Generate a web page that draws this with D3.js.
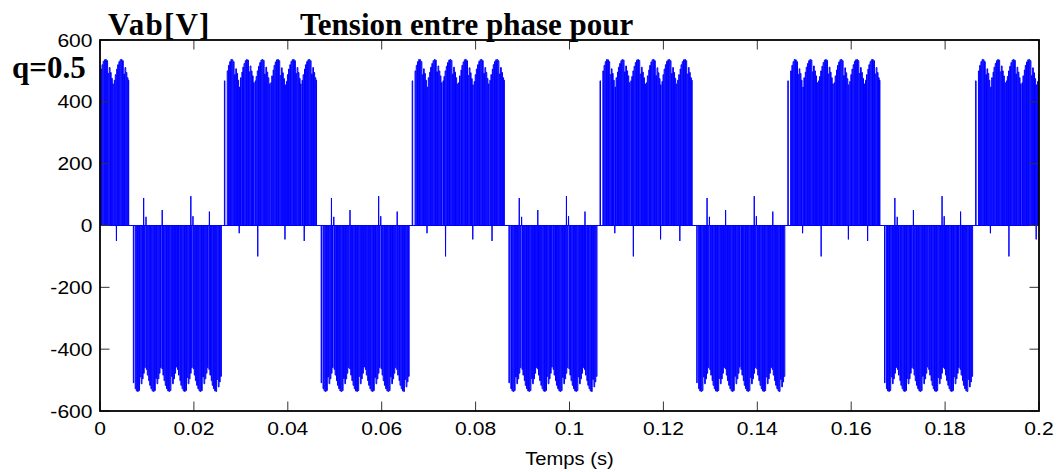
<!DOCTYPE html>
<html>
<head>
<meta charset="utf-8">
<script src="https://cdn.jsdelivr.net/npm/d3@7"></script>
<style>
  body { margin: 0; background: #fff; }
  svg { display: block; }
</style>
</head>
<body>
<svg id="chart" width="1058" height="472"></svg>
<script>
// Axis ticks
const xTicks = [0, 0.02, 0.04, 0.06, 0.08, 0.1, 0.12, 0.14, 0.16, 0.18, 0.2];
const xTickLabels = ["0", "0.02", "0.04", "0.06", "0.08", "0.1", "0.12", "0.14", "0.16", "0.18", "0.2"];
const yTicks = [-600, -400, -200, 0, 200, 400, 600];
const yTickLabels = ["-600", "-400", "-200", "0", "200", "400", "600"];

// Onset time (s) of each block of positive / negative pulses
const positiveBlockStarts = [-0.0135, 0.0265, 0.0665, 0.1065, 0.1465, 0.1865];
const negativeBlockStarts = [0.0071, 0.0471, 0.0871, 0.1271, 0.1671];

// Pulses of a positive block: [on (ms from block onset), off (ms), level (V)]
const positivePulses = [
  [0.00, 0.10, 468],
  [0.60, 0.76, 500], [0.86, 1.02, 518], [1.12, 1.28, 530], [1.38, 1.54, 537], [1.64, 1.80, 536],
  [1.90, 2.06, 530], [2.16, 2.32, 488], [2.42, 2.56, 507], [2.66, 2.80, 492], [2.90, 3.02, 470],
  [3.20, 3.30, 448], [3.42, 3.56, 478], [3.72, 3.84, 496], [3.92, 4.08, 512], [4.18, 4.34, 524],
  [4.44, 4.60, 533], [4.70, 4.86, 537], [4.96, 5.12, 535], [5.22, 5.38, 497], [5.48, 5.64, 516],
  [5.74, 5.88, 500], [5.98, 6.12, 484], [6.22, 6.34, 462],
  [6.56, 6.66, 468], [6.76, 6.90, 482], [7.00, 7.16, 500], [7.26, 7.42, 515], [7.52, 7.68, 527],
  [7.78, 7.94, 535], [8.04, 8.20, 537], [8.30, 8.46, 534], [8.56, 8.72, 490], [8.82, 8.98, 512],
  [9.08, 9.22, 496], [9.32, 9.46, 478], [9.56, 9.68, 458],
  [9.88, 9.98, 462], [10.08, 10.22, 484], [10.38, 10.50, 503], [10.58, 10.74, 518], [10.84, 11.00, 529],
  [11.10, 11.26, 536], [11.36, 11.52, 537], [11.62, 11.78, 533], [11.88, 12.04, 485], [12.14, 12.30, 510],
  [12.40, 12.54, 494], [12.64, 12.78, 475], [12.88, 13.00, 455],
  [13.20, 13.30, 466], [13.42, 13.56, 488], [13.66, 13.82, 506], [13.92, 14.08, 520], [14.18, 14.34, 531],
  [14.44, 14.60, 536], [14.70, 14.86, 537], [14.96, 15.12, 533], [15.22, 15.38, 492], [15.48, 15.64, 511],
  [15.74, 15.88, 495], [15.98, 16.12, 476], [16.22, 16.34, 458],
  [16.54, 16.64, 470], [16.76, 16.90, 488], [17.06, 17.16, 506], [17.26, 17.42, 520], [17.52, 17.68, 530],
  [17.78, 17.94, 536], [18.04, 18.20, 537], [18.30, 18.46, 533], [18.56, 18.72, 490], [18.82, 18.98, 511],
  [19.08, 19.22, 495], [19.32, 19.46, 478], [19.54, 19.62, 470]
];

// Pulses of a negative block: [on (ms from block onset), off (ms), magnitude (V)]
const negativePulses = [
  [0.00, 0.10, 509],
  [0.40, 0.54, 528], [0.64, 0.80, 535], [0.90, 1.06, 537], [1.16, 1.32, 534], [1.42, 1.58, 490],
  [1.68, 1.84, 512], [1.94, 2.08, 496], [2.18, 2.32, 478], [2.42, 2.54, 460],
  [2.78, 2.88, 466], [2.98, 3.12, 484], [3.28, 3.38, 502], [3.48, 3.64, 517], [3.74, 3.90, 528],
  [4.00, 4.16, 535], [4.26, 4.42, 537], [4.52, 4.68, 534], [4.78, 4.94, 495], [5.04, 5.20, 512],
  [5.30, 5.44, 496], [5.54, 5.68, 478], [5.78, 5.90, 460],
  [6.10, 6.20, 464], [6.30, 6.44, 484], [6.54, 6.70, 502], [6.80, 6.96, 517], [7.06, 7.22, 528],
  [7.32, 7.48, 535], [7.58, 7.74, 537], [7.84, 8.00, 534], [8.10, 8.26, 488], [8.36, 8.52, 512],
  [8.62, 8.76, 496], [8.86, 9.00, 478], [9.10, 9.22, 458],
  [9.42, 9.52, 466], [9.62, 9.76, 484], [9.92, 10.02, 502], [10.12, 10.28, 517], [10.38, 10.54, 528],
  [10.64, 10.80, 535], [10.90, 11.06, 537], [11.16, 11.32, 534], [11.42, 11.58, 492], [11.68, 11.84, 512],
  [11.94, 12.08, 496], [12.18, 12.32, 478], [12.42, 12.54, 460],
  [12.78, 12.88, 464], [12.98, 13.12, 484], [13.22, 13.38, 502], [13.48, 13.64, 517], [13.74, 13.90, 528],
  [14.00, 14.16, 535], [14.26, 14.42, 537], [14.52, 14.68, 534], [14.78, 14.94, 490], [15.04, 15.20, 512],
  [15.30, 15.44, 496], [15.54, 15.68, 478], [15.78, 15.90, 460],
  [16.10, 16.20, 466], [16.30, 16.44, 484], [16.60, 16.70, 502], [16.80, 16.96, 517], [17.06, 17.22, 528],
  [17.32, 17.48, 535], [17.58, 17.74, 537], [17.84, 18.00, 498], [18.10, 18.26, 522], [18.36, 18.50, 506],
  [18.60, 18.76, 488]
];

// Short opposite-polarity spikes inside each block: [time (ms from block onset), peak (V)]
const positiveBlockSpikes = [[3.15, -25], [7.10, -100], [12.90, -45], [17.00, -50]];
const negativeBlockSpikes = [[2.20, 89], [2.70, 28], [6.15, 50], [12.25, 95], [12.70, 30], [16.20, 45]];

const svg = d3.select("#chart");
const margin = { left: 100, right: 1039, top: 40, bottom: 411 };

const x = d3.scaleLinear().domain([0, 0.2]).range([margin.left, margin.right]);
const y = d3.scaleLinear().domain([-600, 600]).range([margin.bottom, margin.top]);

svg.append("defs").append("clipPath").attr("id", "plot-clip")
  .append("rect")
  .attr("x", margin.left).attr("y", margin.top)
  .attr("width", margin.right - margin.left).attr("height", margin.bottom - margin.top);

const line = d3.line().x(d => x(d[0])).y(d => y(d[1]));
const plot = svg.append("g").attr("clip-path", "url(#plot-clip)");

const blueStroke = sel => sel.attr("fill", "none").attr("stroke", "#0000ff")
  .attr("stroke-width", 1).attr("stroke-linejoin", "miter");

// zero line between pulses
plot.append("path").attr("d", line([[0, 0], [0.2, 0]])).call(blueStroke);

function blockPoints(start, pulses, sign) {
  const pts = [];
  pulses.forEach(([on, off, v]) => {
    const t0 = start + on / 1000, t1 = start + off / 1000;
    pts.push([t0, 0], [t0, sign * v], [t1, sign * v], [t1, 0]);
  });
  return pts;
}

function spikePoints(start, spikes) {
  return spikes.map(([t, v]) => {
    const tc = start + t / 1000;
    return [[tc - 0.00003, 0], [tc, v], [tc + 0.00003, 0]];
  });
}

positiveBlockStarts.forEach(s => {
  plot.append("path").attr("d", line(blockPoints(s, positivePulses, 1))).call(blueStroke);
  spikePoints(s, positiveBlockSpikes).forEach(p =>
    plot.append("path").attr("d", line(p)).call(blueStroke));
});
negativeBlockStarts.forEach(s => {
  plot.append("path").attr("d", line(blockPoints(s, negativePulses, -1))).call(blueStroke);
  spikePoints(s, negativeBlockSpikes).forEach(p =>
    plot.append("path").attr("d", line(p)).call(blueStroke));
});

// Ticks (inward, on all four sides)
const tickLen = 9.5;
const ticks = svg.append("g").attr("stroke", "#333").attr("stroke-width", 1);
xTicks.forEach(t => {
  const px = x(t);
  ticks.append("line").attr("x1", px).attr("x2", px).attr("y1", margin.bottom).attr("y2", margin.bottom - tickLen);
  ticks.append("line").attr("x1", px).attr("x2", px).attr("y1", margin.top).attr("y2", margin.top + tickLen);
});
yTicks.forEach(v => {
  const py = y(v);
  ticks.append("line").attr("x1", margin.left).attr("x2", margin.left + tickLen).attr("y1", py).attr("y2", py);
  ticks.append("line").attr("x1", margin.right).attr("x2", margin.right - tickLen).attr("y1", py).attr("y2", py);
});

// Axes box
svg.append("rect")
  .attr("x", margin.left).attr("y", margin.top)
  .attr("width", margin.right - margin.left).attr("height", margin.bottom - margin.top)
  .attr("fill", "none").attr("stroke", "#000").attr("stroke-width", 1.8);

// Tick labels
const labelFont = "'Liberation Sans', Arial, sans-serif";
xTicks.forEach((t, i) => {
  svg.append("text")
    .attr("transform", `translate(${x(t)},435) scale(1.17,1)`)
    .attr("text-anchor", "middle")
    .attr("font-family", labelFont).attr("font-size", 18).attr("fill", "#000")
    .text(xTickLabels[i]);
});
yTicks.forEach((v, i) => {
  svg.append("text")
    .attr("transform", `translate(92.5,${y(v) + 6.5}) scale(1.17,1)`)
    .attr("text-anchor", "end")
    .attr("font-family", labelFont).attr("font-size", 18).attr("fill", "#000")
    .text(yTickLabels[i]);
});

svg.append("text")
  .attr("transform", `translate(${(margin.left + margin.right) / 2},465) scale(1.12,1)`)
  .attr("text-anchor", "middle")
  .attr("font-family", labelFont).attr("font-size", 18).attr("fill", "#000")
  .text("Temps (s)");

// Titles
const titleFont = "'Liberation Serif', 'Times New Roman', serif";
svg.append("text").attr("x", 108).attr("y", 35)
  .attr("font-family", titleFont).attr("font-weight", "bold").attr("font-size", 31)
  .attr("letter-spacing", 1.2)
  .text("Vab[V]");
svg.append("text").attr("x", 300).attr("y", 35)
  .attr("font-family", titleFont).attr("font-weight", "bold").attr("font-size", 31)
  .text("Tension entre phase pour");
svg.append("text").attr("x", 12).attr("y", 78)
  .attr("font-family", titleFont).attr("font-weight", "bold").attr("font-size", 31)
  .text("q=0.5");
</script>
</body>
</html>
